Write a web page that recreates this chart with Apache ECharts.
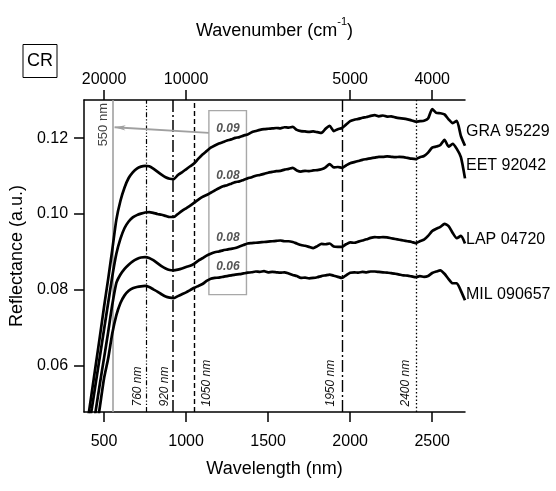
<!DOCTYPE html>
<html>
<head>
<meta charset="utf-8">
<script src="https://cdn.jsdelivr.net/npm/echarts@6/dist/echarts.min.js"></script>
<style>
  html, body { margin: 0; padding: 0; background: #fff; }
  #chart { width: 556px; height: 491px; }
</style>
</head>
<body>
<div id="chart"></div>
<script>
// Wavelength grid (nm) shared by all spectra
const wavelengths = [
  400, 425, 450, 475, 500, 525, 550, 575, 600, 625,
  650, 675, 700, 725, 750, 775, 800, 825, 850, 875,
  900, 925, 950, 975, 1000, 1025, 1050, 1075, 1100, 1125,
  1150, 1175, 1200, 1225, 1250, 1275, 1300, 1325, 1350, 1375,
  1400, 1425, 1450, 1475, 1500, 1525, 1550, 1575, 1600, 1625,
  1650, 1675, 1700, 1725, 1750, 1775, 1800, 1825, 1850, 1875,
  1900, 1925, 1950, 1975, 2000, 2025, 2050, 2075, 2100, 2125,
  2150, 2175, 2200, 2225, 2250, 2275, 2300, 2325, 2350, 2375,
  2400, 2425, 2450, 2475, 2500, 2525, 2550, 2575, 2600, 2625,
  2650, 2675, 2700
];

// Reflectance spectra (a.u.)
const gra95229 = [
  0.0453, 0.0528, 0.0603, 0.0678, 0.0755, 0.0828, 0.0905, 0.0985, 0.1035, 0.1070,
  0.1095, 0.1110, 0.1120, 0.1125, 0.1127, 0.1126, 0.1120, 0.1112, 0.1104, 0.1097,
  0.1093, 0.1092, 0.1103, 0.1110, 0.1118, 0.1126, 0.1134, 0.1146, 0.1157, 0.1166,
  0.1175, 0.1181, 0.1186, 0.1190, 0.1194, 0.1197, 0.1201, 0.1203, 0.1207, 0.1210,
  0.1216, 0.1219, 0.1222, 0.1224, 0.1225, 0.1226, 0.1227, 0.1226, 0.1229, 0.1228,
  0.1230, 0.1222, 0.1219, 0.1218, 0.1217, 0.1218, 0.1216, 0.1214, 0.1225, 0.1233,
  0.1219, 0.1224, 0.1227, 0.1236, 0.1245, 0.1249, 0.1251, 0.1254, 0.1256, 0.1259,
  0.1261, 0.1258, 0.1260, 0.1257, 0.1258, 0.1255, 0.1253, 0.1252, 0.1250, 0.1247,
  0.1244, 0.1245, 0.1246, 0.1252, 0.1277, 0.1267, 0.1266, 0.1263, 0.1250, 0.1240,
  0.1246, 0.1206, 0.1180
];
const eet92042 = [
  0.0420, 0.0485, 0.0555, 0.0625, 0.0695, 0.0765, 0.0835, 0.0895, 0.0935, 0.0963,
  0.0980, 0.0991, 0.0997, 0.1001, 0.1004, 0.1005, 0.1003, 0.1000, 0.0998, 0.0995,
  0.0992, 0.0992, 0.1000, 0.1008, 0.1015, 0.1022, 0.1030, 0.1038, 0.1045, 0.1050,
  0.1056, 0.1062, 0.1068, 0.1073, 0.1076, 0.1080, 0.1084, 0.1086, 0.1090, 0.1094,
  0.1097, 0.1101, 0.1103, 0.1106, 0.1109, 0.1111, 0.1113, 0.1114, 0.1117, 0.1119,
  0.1122, 0.1115, 0.1112, 0.1114, 0.1113, 0.1115, 0.1116, 0.1118, 0.1123, 0.1132,
  0.1123, 0.1124, 0.1122, 0.1128, 0.1134, 0.1137, 0.1140, 0.1143, 0.1145, 0.1147,
  0.1149, 0.1151, 0.1151, 0.1152, 0.1151, 0.1150, 0.1151, 0.1150, 0.1148, 0.1146,
  0.1145, 0.1150, 0.1153, 0.1162, 0.1175, 0.1178, 0.1182, 0.1196, 0.1178, 0.1185,
  0.1172, 0.1150, 0.1094
];
const lap04720 = [
  0.0340, 0.0410, 0.0483, 0.0553, 0.0620, 0.0688, 0.0760, 0.0818, 0.0840, 0.0855,
  0.0866, 0.0875, 0.0881, 0.0885, 0.0886, 0.0884, 0.0878, 0.0870, 0.0862, 0.0856,
  0.0852, 0.0851, 0.0853, 0.0856, 0.0860, 0.0863, 0.0869, 0.0877, 0.0883, 0.0890,
  0.0895, 0.0899, 0.0901, 0.0904, 0.0906, 0.0908, 0.0910, 0.0914, 0.0918, 0.0922,
  0.0923, 0.0924, 0.0925, 0.0926, 0.0927, 0.0928, 0.0929, 0.0930, 0.0928, 0.0928,
  0.0926, 0.0922, 0.0918, 0.0916, 0.0913, 0.0910, 0.0915, 0.0921, 0.0920, 0.0922,
  0.0914, 0.0913, 0.0913, 0.0920, 0.0925, 0.0924, 0.0927, 0.0930, 0.0933, 0.0937,
  0.0939, 0.0938, 0.0939, 0.0938, 0.0936, 0.0934, 0.0932, 0.0930, 0.0928, 0.0926,
  0.0923, 0.0928, 0.0932, 0.0942, 0.0955, 0.0961, 0.0966, 0.0974, 0.0968, 0.0950,
  0.0936, 0.0942, 0.0922
];
const mil090657 = [
  0.0300, 0.0360, 0.0420, 0.0492, 0.0566, 0.0618, 0.0684, 0.0733, 0.0765, 0.0785,
  0.0797, 0.0804, 0.0807, 0.0809, 0.0810, 0.0807, 0.0801, 0.0795, 0.0788, 0.0782,
  0.0779, 0.0778, 0.0783, 0.0788, 0.0793, 0.0799, 0.0805, 0.0810, 0.0815, 0.0823,
  0.0829, 0.0831, 0.0832, 0.0834, 0.0836, 0.0838, 0.0840, 0.0841, 0.0843, 0.0845,
  0.0846, 0.0848, 0.0847, 0.0849, 0.0846, 0.0847, 0.0846, 0.0845, 0.0846, 0.0843,
  0.0839, 0.0836, 0.0831, 0.0832, 0.0830, 0.0831, 0.0833, 0.0836, 0.0838, 0.0840,
  0.0837, 0.0834, 0.0831, 0.0838, 0.0845, 0.0846, 0.0845, 0.0847, 0.0846, 0.0848,
  0.0848, 0.0847, 0.0846, 0.0845, 0.0844, 0.0842, 0.0840, 0.0838, 0.0837, 0.0835,
  0.0833, 0.0836, 0.0834, 0.0836, 0.0844, 0.0848, 0.0851, 0.0842, 0.0828, 0.0817,
  0.0817, 0.0797, 0.0772
];

const sampleNames = ['GRA 95229', 'EET 92042', 'LAP 04720', 'MIL 090657'];
const sampleLabelLevels = [0.1217, 0.1127, 0.0932, 0.0787];

// Band positions (nm) marked by vertical lines
const visibleBand = 550;
const bandCenters = [760, 920, 1050, 1950, 2400];
const bandLabels = ['760 nm', '920 nm', '1050 nm', '1950 nm', '2400 nm'];

// Band-depth annotations inside the highlighted window
const depthWindow = [1139, 1368];
const depthWindowLevels = [0.0787, 0.1273];
const depthLabels = ['0.09', '0.08', '0.08', '0.06'];
const depthLabelLevels = [0.1224, 0.1101, 0.0938, 0.0861];
const depthLabelWavelength = 1255;

// Axis ticks
const wavelengthTicks = [500, 1000, 1500, 2000, 2500];
const wavenumberTicks = [20000, 10000, 5000, 4000];
const reflectanceTicks = [0.06, 0.08, 0.10, 0.12];

const xMin = 378, xMax = 2700;
const yMin = 0.0477, yMax = 0.1301;

const FONT = '"Liberation Sans", Arial, Helvetica, sans-serif';
const AXIS_COLOR = '#000';

const spectra = [gra95229, eet92042, lap04720, mil090657];

const series = spectra.map((vals, k) => ({
  name: sampleNames[k],
  type: 'line',
  data: wavelengths.map((w, i) => [w, vals[i]]),
  showSymbol: false,
  symbol: 'none',
  smooth: 0.2,
  clip: true,
  silent: true,
  z: 5,
  lineStyle: { color: '#000', width: 2.7 }
}));

// vertical band lines + highlighted window
const bandStyles = [
  { color: '#000', width: 1.2, type: [5, 2, 1.2, 2, 1.2, 2] },
  { color: '#000', width: 1.5, type: [12, 3, 2, 3] },
  { color: '#000', width: 1.4, type: [5, 3] },
  { color: '#000', width: 1.4, type: [12, 3, 2, 3] },
  { color: '#000', width: 1.3, type: [1.5, 2.2] }
];

series.push({
  name: 'bands',
  type: 'line',
  data: [],
  silent: true,
  z: 2,
  markLine: {
    silent: true,
    symbol: ['none', 'none'],
    label: { show: false },
    animation: false,
    data: [{ xAxis: visibleBand, lineStyle: { color: '#a0a0a0', width: 1.6, type: 'solid' } }]
      .concat(bandCenters.map((c, i) => ({ xAxis: c, lineStyle: bandStyles[i] })))
  },
  markArea: {
    silent: true,
    animation: false,
    itemStyle: { color: 'rgba(0,0,0,0)', borderColor: '#a8a8a8', borderWidth: 1.4 },
    data: [[
      { coord: [depthWindow[0], depthWindowLevels[1]] },
      { coord: [depthWindow[1], depthWindowLevels[0]] }
    ]]
  }
});

// arrow from the window to the 550 nm line
series.push({
  name: 'pointer',
  type: 'line',
  data: [],
  silent: true,
  z: 3,
  markLine: {
    silent: true,
    animation: false,
    symbol: ['none', 'arrow'],
    symbolSize: [4, 11],
    label: { show: false },
    lineStyle: { color: '#a0a0a0', width: 1.8, type: 'solid' },
    data: [[
      { coord: [depthWindow[0], 0.1214] },
      { coord: [564, 0.1229] }
    ]]
  }
});

const option = {
  animation: false,
  backgroundColor: '#fff',
  textStyle: { fontFamily: FONT, color: '#000' },
  grid: { left: 79, right: 91, top: 100, bottom: 79, containLabel: false },
  xAxis: [
    {
      type: 'value', position: 'bottom', min: xMin, max: xMax,
      axisLine: { show: true, onZero: false, lineStyle: { color: AXIS_COLOR, width: 1.5 } },
      axisTick: { show: true, inside: false, length: 10, customValues: wavelengthTicks,
        lineStyle: { color: AXIS_COLOR, width: 1.5 } },
      axisLabel: { customValues: wavelengthTicks, formatter: v => String(v),
        fontSize: 16, color: '#000', margin: 22, fontFamily: FONT },
      splitLine: { show: false },
      name: 'Wavelength (nm)', nameLocation: 'middle', nameGap: 48,
      nameTextStyle: { fontSize: 18, color: '#000', fontFamily: FONT }
    },
    {
      type: 'value', position: 'top', min: xMin, max: xMax,
      axisLine: { show: true, onZero: false, lineStyle: { color: AXIS_COLOR, width: 1.5 } },
      axisTick: { show: true, inside: false, length: 10,
        customValues: wavenumberTicks.map(n => 1e7 / n),
        lineStyle: { color: AXIS_COLOR, width: 1.5 } },
      axisLabel: { customValues: wavenumberTicks.map(n => 1e7 / n),
        formatter: v => String(Math.round(1e7 / v)),
        fontSize: 16, color: '#000', margin: 12, fontFamily: FONT },
      splitLine: { show: false },
      name: '{t|Wavenumber (cm}{s|-1}{t|)}', nameLocation: 'middle', nameGap: 53,
      nameTextStyle: {
        rich: {
          t: { fontSize: 18, color: '#000', fontFamily: FONT, verticalAlign: 'middle' },
          s: { fontSize: 11, color: '#000', fontFamily: FONT, verticalAlign: 'top', padding: [0, 0, 20, 0] }
        }
      }
    }
  ],
  yAxis: {
    type: 'value', min: yMin, max: yMax, position: 'left',
    axisLine: { show: true, onZero: false, lineStyle: { color: AXIS_COLOR, width: 1.5 } },
    axisTick: { show: true, inside: false, length: 10, customValues: reflectanceTicks,
      lineStyle: { color: AXIS_COLOR, width: 1.5 } },
    axisLabel: { customValues: reflectanceTicks, formatter: v => v.toFixed(2),
      fontSize: 16, color: '#000', margin: 16, fontFamily: FONT },
    splitLine: { show: false },
    name: 'Reflectance (a.u.)', nameLocation: 'middle', nameGap: 49, nameRotate: 90,
    nameTextStyle: { fontSize: 18, color: '#000', fontFamily: FONT }
  },
  series: series
};

const chart = echarts.init(document.getElementById('chart'), null, { renderer: 'canvas' });
chart.setOption(option);

const toPx = (x, y) => chart.convertToPixel({ gridIndex: 0 }, [x, y]);

const graphics = [];

// panel tag
graphics.push({
  type: 'rect', shape: { x: 23, y: 44.5, width: 34, height: 33 },
  style: { fill: '#fff', stroke: '#000', lineWidth: 1 }
});
graphics.push({
  type: 'text', x: 40, y: 61.5,
  style: { text: 'CR', font: '18px ' + FONT, fill: '#000', align: 'center', verticalAlign: 'middle' }
});

// 550 nm tag
{
  const p = toPx(visibleBand, yMax);
  graphics.push({
    type: 'text', x: p[0] - 8.7, y: p[1] + 3, rotation: Math.PI / 2,
    style: { text: visibleBand + ' nm', font: '13px ' + FONT, fill: '#444', align: 'right', verticalAlign: 'middle' }
  });
}

// band labels near the bottom axis
const bandLabelOffsets = [-9.3, -8.8, 12.5, -11.5, -10];
bandCenters.forEach((c, i) => {
  const p = toPx(c, yMin);
  graphics.push({
    type: 'text', x: p[0] + bandLabelOffsets[i], y: p[1] - 5.5, rotation: Math.PI / 2,
    style: { text: bandLabels[i], font: 'italic 12px ' + FONT, fill: '#111', align: 'left', verticalAlign: 'middle' }
  });
});

// sample names at the right end
sampleNames.forEach((n, i) => {
  const p = toPx(xMax, sampleLabelLevels[i]);
  graphics.push({
    type: 'text', x: p[0] + 1, y: p[1],
    style: { text: n, font: '16px ' + FONT, fill: '#000', align: 'left', verticalAlign: 'middle' }
  });
});

// band depth values
depthLabels.forEach((t, i) => {
  const p = toPx(depthLabelWavelength, depthLabelLevels[i]);
  graphics.push({
    type: 'text', x: p[0], y: p[1],
    style: { text: t, font: 'italic bold 12px ' + FONT, fill: '#555', align: 'center', verticalAlign: 'middle' }
  });
});

chart.setOption({ graphic: graphics.map(g => Object.assign({ silent: true, z: 20 }, g)) });
</script>
</body>
</html>
